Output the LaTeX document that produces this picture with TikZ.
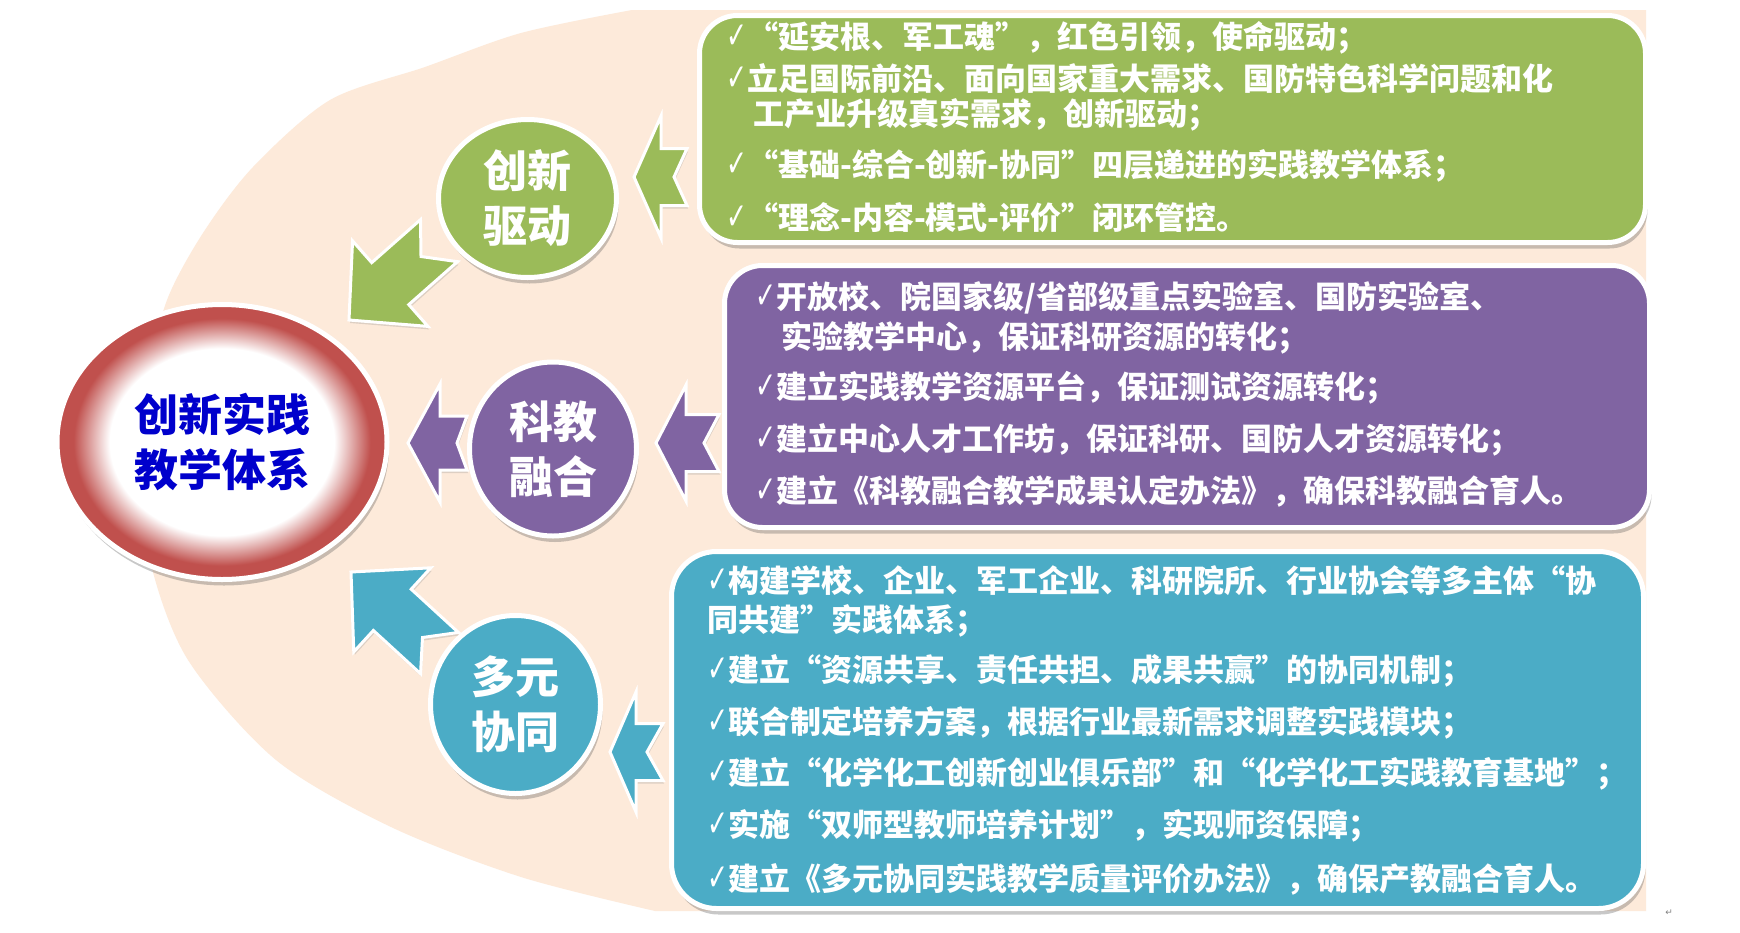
\documentclass[tikz,border=0pt]{standalone}
\usepackage{fontspec}
\setmainfont{Noto Sans CJK SC}
\newfontfamily\symf{DejaVu Sans}
\usetikzlibrary{shapes.geometric,shadows}
\definecolor{peach}{HTML}{FDEADA}
\definecolor{drivegreen}{HTML}{9BBB59}
\definecolor{fusepurple}{HTML}{8064A2}
\definecolor{coopteal}{HTML}{4BACC6}
\definecolor{ringred}{HTML}{C0504D}
\definecolor{titleblue}{RGB}{0,0,204}
\pgfdeclareradialshading{ringshade}{\pgfpoint{0bp}{0bp}}{color(0bp)=(white); color(17bp)=(white); color(22.5bp)=(ringred); color(25bp)=(ringred); color(50bp)=(ringred)}
\newcommand\ck{\scalebox{1}[1.5]{\symf\fontsize{25}{25}\selectfont ✓}}
\begin{document}
\begin{tikzpicture}[x=1pt, y=1pt, line join=miter,
    shadowed/.style={drop shadow={shadow xshift=2pt, shadow yshift=-6pt, opacity=.3, fill=black!70}},
    card/.style={rectangle, rounded corners=38pt, draw=white, line width=5pt, shadowed, inner sep=0},
    hub/.style={ellipse, draw=white, line width=5pt, shadowed, inner sep=0, text=white, align=center, font=\fontsize{44}{55}\selectfont\bfseries},
    item/.style={anchor=west, inner sep=0, text=white, font=\fontsize{31}{37}\selectfont\bfseries},
    blockarrow/.style={draw=white, line width=3pt, drop shadow={shadow xshift=1pt, shadow yshift=-3pt, opacity=.25}},
    pics/notched/.style n args={5}{code={
        \draw[blockarrow, pic actions] (0,0) -- (#1,#2) -- (#1,#3) -- (#4,#3) -- (#4-#5,0) -- (#4,-#3) -- (#1,-#3) -- (#1,-#2) -- cycle;}}]
    \fill[white] (0,0) rectangle (1740,-932);
    \useasboundingbox (0,0) rectangle (1740,-932);
    % background half disc
    \fill[peach] plot[smooth] coordinates {(632,-10) (521,-33) (425,-67) (330,-100) (253,-167) (203,-233) (167,-300) (147,-380) (141,-455) (150,-560) (188,-660) (276,-760) (391,-827) (521,-877) (655,-911)} -- (1646,-911) -- (1646,-10) -- cycle;
    % arrows box -> hub
    \pic[fill=drivegreen] at (634,-177) {notched={27}{61}{28.5}{53}{13}};
    \pic[fill=fusepurple] at (656,-443) {notched={30}{58}{28.5}{63}{15}};
    \pic[fill=coopteal] at (610,-752) {notched={26}{60}{28.5}{53}{16}};
    % arrows hub -> core
    \pic[fill=drivegreen, rotate=41.4] at (349,-320) {notched={55}{57}{28}{120}{24}};
    \pic[fill=fusepurple] at (408,-443) {notched={32}{59}{27}{59}{10}};
    \pic[fill=coopteal, rotate=-42.5] at (351,-572) {notched={56}{57}{28}{120}{23}};
    % boxes
    \node[card, fill=drivegreen, minimum width=946pt, minimum height=227pt] (drivebox) at (1172.5,-129) {};
    \node[card, fill=fusepurple, minimum width=925pt, minimum height=262pt] (fusebox) at (1187,-396.5) {};
    \node[card, fill=coopteal, rounded corners=45pt, minimum width=972pt, minimum height=357pt] (coopbox) at (1157.5,-730) {};
    % hubs
    \node[hub, fill=drivegreen, minimum width=178pt, minimum height=158pt] (drive) at (527.5,-198.5) {创新\\驱动};
    \node[hub, fill=fusepurple, minimum width=167pt, minimum height=174pt] (fuse) at (553,-449) {科教\\融合};
    \node[hub, fill=coopteal, minimum width=170pt, minimum height=178pt] (coop) at (515.5,-704.5) {多元\\协同};
    \node[hub, shade, shading=ringshade, minimum width=330pt, minimum height=275pt, text=titleblue] (core) at (222,-442) {创新实践\\教学体系};
    % items
    \node[item] (d1) at (726,-38) {\ck{}“延安根、军工魂”，红色引领，使命驱动；};
    \node[item] (d2) at (726,-78) {\ck{}立足国际前沿、面向国家重大需求、国防特色科学问题和化};
    \node[item] (d3) at (753,-115) {工产业升级真实需求，创新驱动；};
    \node[item] (d4) at (726,-166) {\ck{}“基础-综合-创新-协同”四层递进的实践教学体系；};
    \node[item] (d5) at (726,-218) {\ck{}“理念-内容-模式-评价”闭环管控。};
    \node[item] (f1) at (755,-298) {\ck{}开放校、院国家级/省部级重点实验室、国防实验室、};
    \node[item] (f2) at (781,-338) {实验教学中心，保证科研资源的转化；};
    \node[item] (f3) at (755,-388) {\ck{}建立实践教学资源平台，保证测试资源转化；};
    \node[item] (f4) at (755,-440) {\ck{}建立中心人才工作坊，保证科研、国防人才资源转化；};
    \node[item] (f5) at (755,-491) {\ck{}建立《科教融合教学成果认定办法》，确保科教融合育人。};
    \node[item] (c1) at (707,-581) {\ck{}构建学校、企业、军工企业、科研院所、行业协会等多主体“协};
    \node[item] (c2) at (707,-621) {同共建”实践体系；};
    \node[item] (c3) at (707,-671) {\ck{}建立“资源共享、责任共担、成果共赢”的协同机制；};
    \node[item] (c4) at (707,-723) {\ck{}联合制定培养方案，根据行业最新需求调整实践模块；};
    \node[item] (c5) at (707,-774) {\ck{}建立“化学化工创新创业俱乐部”和“化学化工实践教育基地”；};
    \node[item] (c6) at (707,-826) {\ck{}实施“双师型教师培养计划”，实现师资保障；};
    \node[item] (c7) at (707,-879) {\ck{}建立《多元协同实践教学质量评价办法》，确保产教融合育人。};
    \node[font=\symf\fontsize{9}{9}\selectfont, text=gray, inner sep=0] (mark) at (1669,-913) {↵};
\end{tikzpicture}
\end{document}
